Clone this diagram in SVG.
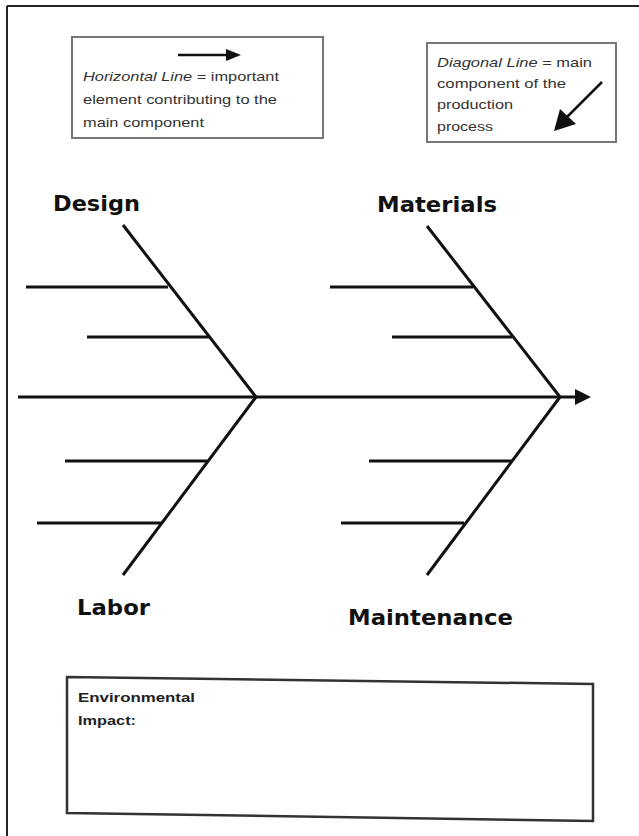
<svg xmlns="http://www.w3.org/2000/svg" width="639" height="836" viewBox="0 0 639 836">
<style>
.bone{stroke:#111;stroke-width:3;stroke-linecap:butt;fill:none}
.rib{stroke:#111;stroke-width:3.2;fill:none}
.lbl{font-family:"DejaVu Sans","Liberation Sans",sans-serif;font-weight:bold;font-size:21px;fill:#111}
.note{font-family:"Liberation Sans",Arial,sans-serif;font-size:13px;fill:#333}
.env{font-family:"Liberation Sans",Arial,sans-serif;font-size:13px;font-weight:bold;fill:#222}
.box{fill:#fff;stroke:#777;stroke-width:2}
.head{fill:#111}
</style>
<rect width="639" height="836" fill="#fff"/>
<g id="frame" stroke="#222" stroke-width="2">
<line x1="7" y1="6" x2="639" y2="6"/>
<line x1="7" y1="6" x2="7" y2="836"/>
</g>
<g id="legend-horizontal">
<rect class="box" x="72" y="37" width="251" height="101"/>
<line x1="178" y1="55" x2="228" y2="55" stroke="#111" stroke-width="2.5"/>
<polygon class="head" points="226,49 241,55 226,61"/>
<text class="note" x="83" y="81" textLength="196" lengthAdjust="spacingAndGlyphs"><tspan font-style="italic">Horizontal Line</tspan> = important</text>
<text class="note" x="83" y="104" textLength="194" lengthAdjust="spacingAndGlyphs">element contributing to the</text>
<text class="note" x="83" y="127" textLength="121" lengthAdjust="spacingAndGlyphs">main component</text>
</g>
<g id="legend-diagonal">
<rect class="box" x="427" y="43" width="189" height="99"/>
<text class="note" x="437" y="67" textLength="155" lengthAdjust="spacingAndGlyphs"><tspan font-style="italic">Diagonal Line</tspan> = main</text>
<text class="note" x="437" y="88" textLength="129" lengthAdjust="spacingAndGlyphs">component of the</text>
<text class="note" x="437" y="109" textLength="76" lengthAdjust="spacingAndGlyphs">production</text>
<text class="note" x="437" y="131" textLength="56" lengthAdjust="spacingAndGlyphs">process</text>
<line x1="602" y1="82" x2="566" y2="118" stroke="#111" stroke-width="2.5"/>
<polygon class="head" points="554,131 560,109 576,124"/>
</g>
<g id="connectors">
<line class="bone" x1="18" y1="397" x2="577" y2="397" stroke-width="3.4"/>
<polygon class="head" points="575,389 591,397 575,405"/>
<line class="bone" x1="123" y1="225" x2="256" y2="397"/>
<line class="bone" x1="256" y1="397" x2="123" y2="575"/>
<line class="bone" x1="427" y1="226" x2="560" y2="397"/>
<line class="bone" x1="560" y1="397" x2="427" y2="575"/>
<line class="rib" x1="26" y1="287" x2="168" y2="287"/>
<line class="rib" x1="87" y1="337" x2="209" y2="337"/>
<line class="rib" x1="65" y1="461" x2="207" y2="461"/>
<line class="rib" x1="37" y1="523" x2="161" y2="523"/>
<line class="rib" x1="330" y1="287" x2="473" y2="287"/>
<line class="rib" x1="392" y1="337" x2="512" y2="337"/>
<line class="rib" x1="369" y1="461" x2="512" y2="461"/>
<line class="rib" x1="341" y1="523" x2="464" y2="523"/>
</g>
<g id="design"><text class="lbl" x="53" y="211" textLength="87" lengthAdjust="spacingAndGlyphs">Design</text></g>
<g id="materials"><text class="lbl" x="377" y="212" textLength="120" lengthAdjust="spacingAndGlyphs">Materials</text></g>
<g id="labor"><text class="lbl" x="77" y="615" textLength="73" lengthAdjust="spacingAndGlyphs">Labor</text></g>
<g id="maintenance"><text class="lbl" x="348" y="625" textLength="165" lengthAdjust="spacingAndGlyphs">Maintenance</text></g>
<g id="environmental">
<polygon points="67,677 593,684 593,821 67,813" fill="#fff" stroke="#333" stroke-width="2.5"/>
<text class="env" x="78" y="702" textLength="117" lengthAdjust="spacingAndGlyphs">Environmental</text>
<text class="env" x="78" y="725" textLength="58" lengthAdjust="spacingAndGlyphs">Impact:</text>
</g>
</svg>
